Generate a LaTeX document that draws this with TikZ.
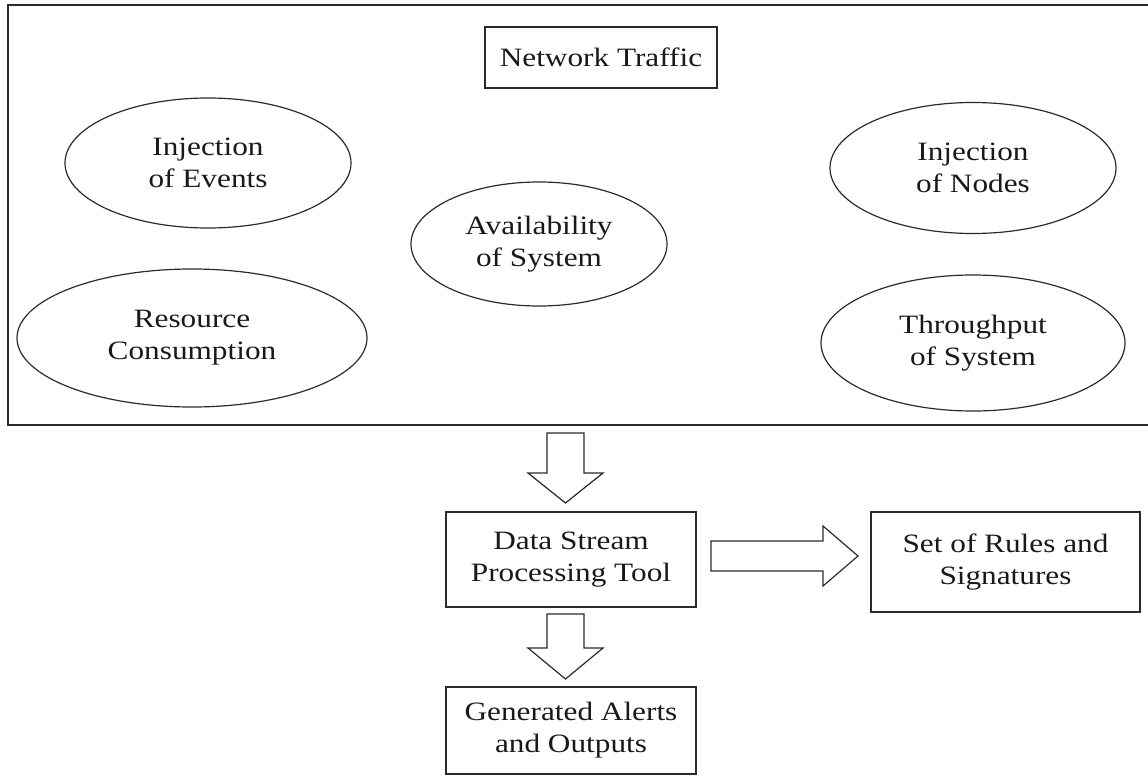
\documentclass[tikz,border=0pt]{standalone}
\usepackage{fontspec}
\setmainfont{Liberation Serif}[FakeStretch=1.18]
\usetikzlibrary{shapes.geometric}
\definecolor{ink}{HTML}{2B2B2B}
\tikzset{
  every node/.style={font=\fontsize{26.5}{32}\selectfont, text=black!90, align=center, inner sep=0pt},
  boxnode/.style={draw=ink, line width=1.3pt, rectangle},
  ovalnode/.style={draw=ink, line width=1.2pt, ellipse},
  frame/.style={draw=ink, line width=1.4pt},
  blockarrow/.style={draw=ink, line width=1.2pt, fill=white, line join=miter}
}
\begin{document}
\begin{tikzpicture}[x=1pt, y=-1pt]
\useasboundingbox (0,0) rectangle (1148,776);
\clip (0,0) rectangle (1148,776);

% outer frame holding the traffic attributes (runs past the right edge)
\draw[frame] (8,5) rectangle (1170,425);

\node[boxnode, minimum width=232pt, minimum height=61pt] (nt) at (601,57.5) {Network Traffic};

\node[ovalnode, minimum width=286pt, minimum height=130pt] (ev) at (208,163) {Injection\\of Events};
\node[ovalnode, minimum width=256pt, minimum height=124pt] (av) at (539,244) {Availability\\of System};
\node[ovalnode, minimum width=286pt, minimum height=131pt] (nd) at (973,168) {Injection\\of Nodes};
\node[ovalnode, minimum width=350pt, minimum height=138pt] (rc) at (192,338) {Resource\\Consumption};
\node[ovalnode, minimum width=304pt, minimum height=136pt] (th) at (973,343) {Throughput\\of System};

% processing chain
\node[boxnode, minimum width=250pt, minimum height=95pt] (ds) at (571,559.5) {Data Stream\\Processing Tool};
\node[boxnode, minimum width=269pt, minimum height=100pt] (rs) at (1005.5,562) {Set of Rules and\\Signatures};
\node[boxnode, minimum width=250pt, minimum height=87pt] (ga) at (571,730.5) {Generated Alerts\\and Outputs};

% block arrows
\coordinate (a1) at (565.5,433);
\draw[blockarrow] (a1) ++(-18.5,0) -- ++(37,0) -- ++(0,40) -- ++(19,0)
  -- ++(-37.5,30) -- ++(-37.5,-30) -- ++(19,0) -- cycle;

\coordinate (a2) at (565.5,614);
\draw[blockarrow] (a2) ++(-18.5,0) -- ++(37,0) -- ++(0,34) -- ++(19,0)
  -- ++(-37.5,31) -- ++(-37.5,-31) -- ++(19,0) -- cycle;

\coordinate (a3) at (711,556);
\draw[blockarrow] (a3) ++(0,-15) -- ++(112,0) -- ++(0,-15) -- ++(35,30)
  -- ++(-35,30) -- ++(0,-15) -- ++(-112,0) -- cycle;
\end{tikzpicture}
\end{document}
